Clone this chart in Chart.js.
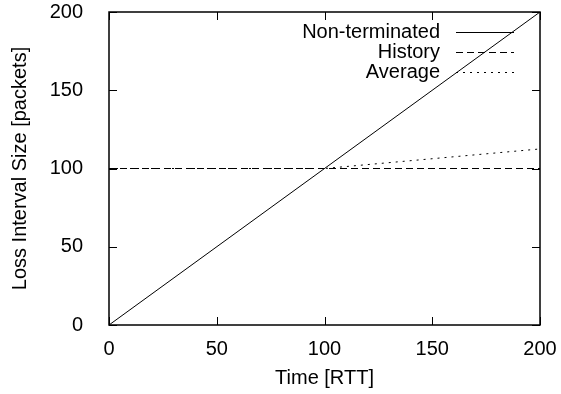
<!DOCTYPE html>
<html>
<head>
<meta charset="utf-8">
<script src="https://cdn.jsdelivr.net/npm/chart.js@4"></script>
<style>
  html, body { margin: 0; padding: 0; background: #fff; }
  #wrap { width: 561px; height: 394px; }
</style>
</head>
<body>
<div id="wrap"><canvas id="lossChart" width="561" height="394"></canvas></div>
<script>
// values
const timeRtt = [0, 100, 200];
const nonTerminated = [0, 100, 200];
const history = [100, 100, 100];
const average = [100, 100, 112.5];
const xTicks = [0, 50, 100, 150, 200];
const yTicks = [0, 50, 100, 150, 200];

const FONT = 'Liberation Sans, Arial, sans-serif';
const toPoints = ys => timeRtt.map((t, i) => ({ x: t, y: ys[i] }));

// gnuplot-ish frame with inward, mirrored tick marks
const framePlugin = {
  id: 'frame',
  afterDatasetsDraw(chart) {
    const { ctx, chartArea: a, scales } = chart;
    const len = 8;
    ctx.save();
    ctx.strokeStyle = '#000';
    ctx.lineWidth = 1;
    ctx.beginPath();
    xTicks.forEach(v => {
      const px = Math.round(scales.x.getPixelForValue(v)) + 0.5;
      ctx.moveTo(px, a.bottom); ctx.lineTo(px, a.bottom - len);
      ctx.moveTo(px, a.top); ctx.lineTo(px, a.top + len);
    });
    yTicks.forEach(v => {
      const py = Math.round(scales.y.getPixelForValue(v)) + 0.5;
      ctx.moveTo(a.left, py); ctx.lineTo(a.left + len, py);
      ctx.moveTo(a.right, py); ctx.lineTo(a.right - len, py);
    });
    ctx.stroke();
    ctx.lineWidth = 1.5;
    ctx.strokeRect(a.left, a.top, a.right - a.left, a.bottom - a.top);
    ctx.restore();
  }
};

// legend inside the plot: right-aligned text, line sample to the right
const keyPlugin = {
  id: 'key',
  afterDatasetsDraw(chart) {
    const { ctx } = chart;
    const textRight = 440, lineStart = 456, lineEnd = 514;
    let y = 32;
    ctx.save();
    ctx.font = '20px ' + FONT;
    ctx.textAlign = 'right';
    ctx.textBaseline = 'middle';
    chart.data.datasets.forEach(ds => {
      ctx.fillStyle = '#000';
      ctx.fillText(ds.label, textRight, y);
      ctx.strokeStyle = ds.borderColor;
      ctx.lineWidth = ds.borderWidth;
      ctx.setLineDash(ds.borderDash || []);
      ctx.beginPath();
      ctx.moveTo(lineStart, y + 0.5);
      ctx.lineTo(lineEnd, y + 0.5);
      ctx.stroke();
      y += 20;
    });
    ctx.restore();
  }
};

new Chart(document.getElementById('lossChart'), {
  type: 'line',
  data: {
    datasets: [
      { label: 'Non-terminated', data: toPoints(nonTerminated), borderColor: '#000', borderWidth: 1, pointRadius: 0 },
      { label: 'History', data: toPoints(history), borderColor: '#000', borderWidth: 1, borderDash: [7, 4], pointRadius: 0 },
      { label: 'Average', data: toPoints(average), borderColor: '#000', borderWidth: 1, borderDash: [2, 5], pointRadius: 0 }
    ]
  },
  options: {
    responsive: false,
    animation: false,
    layout: { padding: { top: 12, right: 21, left: 0, bottom: 0 } },
    plugins: { legend: { display: false }, tooltip: { enabled: false } },
    scales: {
      x: {
        type: 'linear', min: 0, max: 200,
        afterFit: s => { s.height = 69; s.paddingLeft = 0; s.paddingRight = 0; },
        afterBuildTicks: s => { s.ticks = xTicks.map(v => ({ value: v })); },
        grid: { display: false },
        border: { display: false },
        ticks: { color: '#000', font: { family: FONT, size: 20 }, padding: 4, maxRotation: 0 },
        title: { display: true, text: 'Time [RTT]', color: '#000', font: { family: FONT, size: 20 }, padding: { top: 4, bottom: 4 } }
      },
      y: {
        type: 'linear', min: 0, max: 200,
        afterFit: s => { s.width = 109; s.paddingTop = 0; s.paddingBottom = 0; },
        afterBuildTicks: s => { s.ticks = yTicks.map(v => ({ value: v })); },
        grid: { display: false },
        border: { display: false },
        ticks: { color: '#000', font: { family: FONT, size: 20 }, padding: 18 },
        title: { display: true, text: 'Loss Interval Size [packets]', color: '#000', font: { family: FONT, size: 20 }, padding: { top: 8, bottom: 4 } }
      }
    }
  },
  plugins: [framePlugin, keyPlugin]
});
</script>
</body>
</html>
